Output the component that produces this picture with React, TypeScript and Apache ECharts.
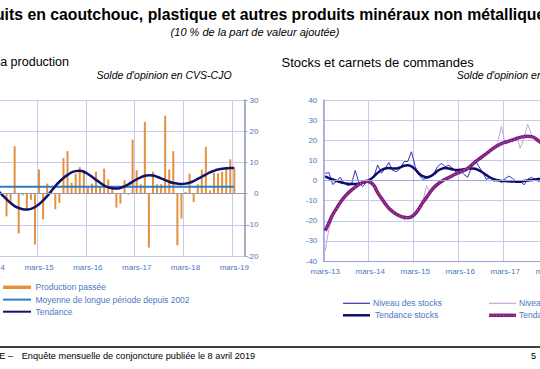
import React, { useEffect, useRef } from "react";
import * as echarts from "echarts";

const FONT = "'Liberation Sans', Arial, sans-serif";
const MONTHS = ["mars", "avr", "mai", "juin", "juil", "août", "sept", "oct", "nov", "déc", "janv", "févr"];

function makeMonths(startYear: number, n: number): string[] {
  const out: string[] = [];
  for (let i = 0; i < n; i++) {
    const year = startYear + Math.floor((i + 2) / 12);
    out.push(MONTHS[i % 12] + "-" + String(year % 100).padStart(2, "0"));
  }
  return out;
}

// Left chart: months from mars-14
const LEFT_CATS = makeMonths(2014, 63);
const PRODUCTION_PASSEE: (number | null)[] = [
  null, null, null, -1, -7.3, -2.7, 15.2, -12.8, -0.5, -4.8, -2, -16.3,
  7.7, -8.3, 3.2, 0.5, -5, -3, 11.4, 13.6, 3.5, 6.4, 8.5, 7.5,
  2, 3.2, 7, 2, 8, 4.5, 2, -4.5, -3.2, 4.3, -0.3, 17.3,
  7.5, 3, 23, -17.3, 7, 3, 3, 25, 7.7, 13.6, -16.6, -8,
  0.5, 6.4, -2.7, 3, 7.7, 15, 1, 6.6, 6.5, 7, 8, 11,
  8,
];
const MOYENNE_LONGUE_PERIODE = 2.2;
const TENDANCE_PRODUCTION: (number | null)[] = [
  null, null, 0.8, -0.5, -1.8, -3, -4, -4.6, -5, -5.1, -4.9, -4.3,
  -3.4, -2.2, -0.8, 0.8, 2.4, 3.8, 5, 6, 6.8, 7.2, 7.3, 7,
  6.3, 5.4, 4.4, 3.5, 2.6, 2, 1.7, 1.6, 1.8, 2.3, 3, 3.8,
  4.6, 5.2, 5.7, 5.9, 5.8, 5.4, 4.9, 4.3, 3.8, 3.4, 3.2, 3.1,
  3.2, 3.5, 4, 4.7, 5.4, 6.1, 6.8, 7.3, 7.7, 8, 8.1, 8.2,
  8.2,
];

// Right chart: months from mars-13
const RIGHT_CATS = makeMonths(2013, 76);
const NIVEAU_STOCKS = [
  3.6, 3.9, -2, -0.5, 1.6, -1.4, -2.5, -2, 5, -1, -3, -1,
  1, 2, 7.7, 3.6, 6, 8.9, 5, 4.4, 6, 9.4, 9.4, 14.3,
  7, 2.7, 0.6, 1, 1.5, 3.6, 7, 8.5, 6.9, 7.5, 6, 4,
  5, 3, 1.6, 6.5, 10.2, 6.9, 4, 0.6, 1.5, -0.5, 0.5, -1,
  1, 2.2, 1, -0.6, 0, -2.2, 0.6, 1.6, 0.5, -0.5, 1,
];
const TENDANCE_STOCKS = [
  2, 1.2, 0.5, -0.2, -0.8, -1.3, -1.6, -1.7, -1.7, -1.5, -1.2, -0.5,
  0.5, 2, 3.8, 5.2, 6, 6.2, 6, 6, 6.5, 7.3, 7.6, 7,
  5.5, 3.5, 2.2, 1.6, 2, 3.2, 4.8, 5.8, 6.2, 6, 5.5, 5.2,
  5.3, 5.6, 5.9, 6, 5.8, 5, 4, 2.7, 1.5, 0.6, 0.1, -0.2,
  -0.3, -0.4, -0.5, -0.6, -0.6, -0.3, 0, 0.3, 0.5, 0.7, 0.8,
];
const NIVEAU_CARNETS = [
  -35, -24, -18, -14, -11.5, -8, -6, -5, -3, -2.5, -0.5, -1,
  0, -3, -6.5, -8, -12, -13, -16, -16, -18, -19.5, -18.5, -19,
  -16, -15, -11, -2.5, -6, -3, -2, -0.5, 0.5, 1, 3, 3,
  4, 5.5, 6, 7, 9, 10.5, 11, 14, 15, 16, 19, 27,
  18, 20, 19, 22, 16, 21, 28, 23, 21, 19, 17,
];
const TENDANCE_CARNETS = [
  -25, -21, -17, -14, -11, -8.5, -6.5, -4.8, -3.3, -2, -1, -0.4,
  -0.8, -2.5, -6, -8.8, -11.5, -13.8, -15.5, -16.8, -17.7, -18.3, -18.5, -18,
  -16.5, -14, -11, -8.5, -5.8, -3.5, -1.8, -0.5, 0.6, 1.5, 2.5, 3.4,
  4.2, 5, 6, 7.5, 9.2, 10.6, 12, 13.4, 14.8, 16.2, 17.4, 18.3,
  19, 19.6, 20.2, 20.8, 21.4, 21.8, 22, 21.8, 21, 19.5, 18,
];

const GRID_COLOR = "#c9c9ee";
const LABEL_COLOR = "#4a78c0";

export default function App() {
  const ref = useRef<HTMLDivElement>(null);
  useEffect(() => {
    if (!ref.current) return;
    const chart = echarts.init(ref.current, null, { renderer: "svg" });
    const every12 = (i: number) => i % 12 === 0;
    const txt = (text: string, x: number, y: number, size: number, opts: any = {}) => ({
      type: "text",
      x,
      y,
      silent: true,
      style: {
        text,
        fill: opts.fill || "#000",
        fontSize: size,
        fontFamily: FONT,
        fontWeight: opts.weight || "normal",
        fontStyle: opts.italic ? "italic" : "normal",
        align: opts.align || "left",
        textAlign: opts.align || "left",
        verticalAlign: "middle",
        textVerticalAlign: "middle",
      },
    });
    const ln = (x1: number, y1: number, x2: number, y2: number, color: string, w: number, dash?: any) => ({
      type: "line",
      silent: true,
      shape: { x1, y1, x2, y2 },
      style: { stroke: color, lineWidth: w, lineDash: dash },
    });
    const option: any = {
      animation: false,
      backgroundColor: "#fff",
      textStyle: { fontFamily: FONT },
      grid: [
        { left: -11.8, top: 100, width: 256.3, height: 156, containLabel: false, outerBoundsMode: "none" },
        { left: 323.3, top: 100, width: 285, height: 161, containLabel: false, outerBoundsMode: "none" },
      ],
      xAxis: [
        {
          type: "category",
          gridIndex: 0,
          data: LEFT_CATS,
          boundaryGap: true,
          axisLine: { show: true, onZero: false, lineStyle: { color: GRID_COLOR } },
          axisTick: { show: false },
          axisLabel: { interval: every12, color: LABEL_COLOR, fontSize: 8, fontFamily: FONT, margin: 7 },
          splitLine: { show: true, interval: every12, lineStyle: { color: GRID_COLOR, width: 1 } },
        },
        {
          type: "category",
          gridIndex: 1,
          data: RIGHT_CATS,
          boundaryGap: true,
          axisLine: { show: true, onZero: false, lineStyle: { color: "#9d9ddc" } },
          axisTick: { show: false },
          axisLabel: { interval: every12, color: LABEL_COLOR, fontSize: 8, fontFamily: FONT, margin: 6 },
          splitLine: { show: true, interval: every12, lineStyle: { color: GRID_COLOR, width: 1 } },
        },
      ],
      yAxis: [
        {
          type: "value",
          gridIndex: 0,
          position: "right",
          min: -20,
          max: 30,
          interval: 10,
          axisLine: { show: true, lineStyle: { color: "#9a9ab4", width: 1.5 } },
          axisTick: { show: true, length: 3, lineStyle: { color: "#9a9ab4" } },
          axisLabel: { color: LABEL_COLOR, fontSize: 8, fontFamily: FONT, align: "right", margin: 14 },
          splitLine: { show: true, lineStyle: { color: GRID_COLOR, width: 1 } },
        },
        {
          type: "value",
          gridIndex: 1,
          position: "left",
          min: -40,
          max: 40,
          interval: 10,
          axisLine: { show: true, lineStyle: { color: "#9d9ddc", width: 1.5 } },
          axisTick: { show: false },
          axisLabel: { color: LABEL_COLOR, fontSize: 8, fontFamily: FONT, align: "right", margin: 6 },
          splitLine: { show: true, lineStyle: { color: GRID_COLOR, width: 1 } },
        },
      ],
      series: [
        {
          name: "Production passée",
          type: "bar",
          xAxisIndex: 0,
          yAxisIndex: 0,
          data: PRODUCTION_PASSEE,
          barWidth: 2,
          itemStyle: { color: "#e3913f" },
          markLine: {
            silent: true,
            symbol: "none",
            label: { show: false },
            lineStyle: { color: "#9a9ab4", width: 1, type: "solid" },
            data: [{ yAxis: 0 }],
          },
        },
        {
          name: "Moyenne de longue période depuis 2002",
          type: "line",
          xAxisIndex: 0,
          yAxisIndex: 0,
          data: PRODUCTION_PASSEE.map(() => MOYENNE_LONGUE_PERIODE),
          symbol: "none",
          lineStyle: { color: "#2f7bc4", width: 2 },
        },
        {
          name: "Tendance",
          type: "line",
          xAxisIndex: 0,
          yAxisIndex: 0,
          data: TENDANCE_PRODUCTION,
          symbol: "none",
          smooth: 0.4,
          lineStyle: { color: "#12126a", width: 2.5 },
        },
        {
          name: "Niveau des carnets",
          type: "line",
          xAxisIndex: 1,
          yAxisIndex: 1,
          data: NIVEAU_CARNETS,
          symbol: "none",
          lineStyle: { color: "#c8a2e2", width: 1 },
          markLine: {
            silent: true,
            symbol: "none",
            label: { show: false },
            lineStyle: { color: "#a4a4e0", width: 1, type: "solid" },
            data: [{ yAxis: 0 }],
          },
        },
        {
          name: "Niveau des stocks",
          type: "line",
          xAxisIndex: 1,
          yAxisIndex: 1,
          data: NIVEAU_STOCKS,
          symbol: "none",
          lineStyle: { color: "#3434b4", width: 1 },
        },
        {
          name: "Tendance stocks",
          type: "line",
          xAxisIndex: 1,
          yAxisIndex: 1,
          data: TENDANCE_STOCKS,
          symbol: "none",
          smooth: 0.4,
          lineStyle: { color: "#0d0d6e", width: 2.5 },
        },
        {
          name: "Tendance carnets",
          type: "line",
          xAxisIndex: 1,
          yAxisIndex: 1,
          data: TENDANCE_CARNETS,
          symbol: "none",
          smooth: 0.4,
          lineStyle: { color: "#7e217e", width: 3.5 },
        },
        {
          name: "Tendance carnets (motif)",
          type: "line",
          xAxisIndex: 1,
          yAxisIndex: 1,
          data: TENDANCE_CARNETS,
          symbol: "none",
          smooth: 0.4,
          lineStyle: { color: "#c46ac4", width: 1, type: [1, 2.5] },
        },
      ],
      graphic: [
        txt("Produits en caoutchouc, plastique et autres produits minéraux non métalliques", 256.5, 14, 15.8, { weight: "bold", align: "center" }),
        txt("(10 % de la part de valeur ajoutée)", 255, 32, 11, { italic: true, align: "center" }),
        txt("la production", 69, 62, 12.5, { align: "right" }),
        txt("Stocks et carnets de commandes", 281.5, 62, 13),
        txt("Solde d'opinion en CVS-CJO", 96.5, 75, 10.5, { italic: true }),
        txt("Solde d'opinion en CVS-CJO", 456.7, 75, 10.5, { italic: true }),
        ln(3, 287.3, 31, 287.3, "#e3913f", 3.5),
        txt("Production passée", 35.5, 287.3, 8.5, { fill: LABEL_COLOR }),
        ln(3, 299.6, 31, 299.6, "#2f7bc4", 2),
        txt("Moyenne de longue période depuis 2002", 35.5, 299.6, 8.5, { fill: LABEL_COLOR }),
        ln(3, 311.7, 31, 311.7, "#12126a", 2),
        txt("Tendance", 35.5, 311.7, 8.5, { fill: LABEL_COLOR }),
        ln(343, 303.3, 370, 303.3, "#3434b4", 1.2),
        txt("Niveau des stocks", 373, 303.3, 8.5, { fill: LABEL_COLOR }),
        ln(343, 315.3, 370, 315.3, "#0d0d6e", 2.5),
        txt("Tendance stocks", 375, 315.3, 8.5, { fill: LABEL_COLOR }),
        ln(489, 303.3, 516, 303.3, "#c8a2e2", 1.2),
        txt("Niveau des carnets", 519, 303.3, 8.5, { fill: LABEL_COLOR }),
        ln(489, 315.3, 516, 315.3, "#7e217e", 3.5),
        ln(489, 315.3, 516, 315.3, "#c46ac4", 1, [1, 2.5]),
        txt("Tendance carnets", 519, 315.3, 8.5, { fill: LABEL_COLOR }),
        ln(0, 347, 540, 347, "#000", 1.5),
        txt("INSEE –", 13, 356, 9.2, { align: "right" }),
        txt("Enquête mensuelle de conjoncture publiée le 8 avril 2019", 21.7, 356, 9.2),
        txt("5", 531, 356, 9.2),
      ],
    };
    chart.setOption(option);
    return () => chart.dispose();
  }, []);
  return (
    <div
      ref={ref}
      style={{ position: "absolute", left: 0, top: 0, width: 540, height: 369, background: "#fff" }}
    />
  );
}
